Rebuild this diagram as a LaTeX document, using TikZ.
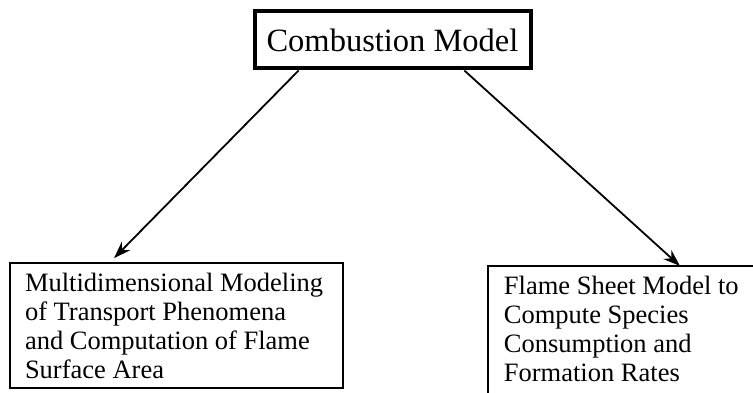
\documentclass[tikz,border=0pt]{standalone}
\usepackage{fontspec}
\setmainfont{Liberation Serif}
\usetikzlibrary{arrows.meta,calc}
\begin{document}
\begin{tikzpicture}[x=1pt,y=1pt,
  topbox/.style={draw,line width=4pt,minimum width=276pt,minimum height=57pt,inner sep=0pt,
    font=\fontsize{32.5}{36}\selectfont},
  leafbox/.style={draw,line width=1.8pt,align=flush left,inner xsep=15pt,
    font=\fontsize{26.5}{29}\selectfont},
  conn/.style={line width=1.8pt,-{Stealth[length=17pt,width=12pt]}}]
\useasboundingbox (0,0) rectangle (753,-393);
\node[topbox] (top) at (392.5,-40) {Combustion Model};
\node[leafbox,text width=303pt,minimum height=125pt] (lbox) at (176.5,-325.5)
  {\mbox{Multidimensional Modeling}\\\mbox{of Transport Phenomena}\\\mbox{and Computation of Flame}\\\mbox{Surface Area}};
\node[leafbox,draw=none,text width=240pt,inner ysep=9pt,anchor=north west] (rbox) at (488,-266)
  {\mbox{Flame Sheet Model to}\\\mbox{Compute Species}\\\mbox{Consumption and}\\\mbox{Formation Rates}};
\coordinate (rbl) at (488,-400);
\coordinate (rtr) at (760,-266);
\draw[line width=1.8pt] (rtr) -- (rbox.north west) -- (rbl);
\draw[conn] (top.198.9) -- ($(lbox.north west)+(105,4)$);
\draw[conn] (top.337.6) -- ($(rbox.north west)+(192,0)$);
\end{tikzpicture}
\end{document}
